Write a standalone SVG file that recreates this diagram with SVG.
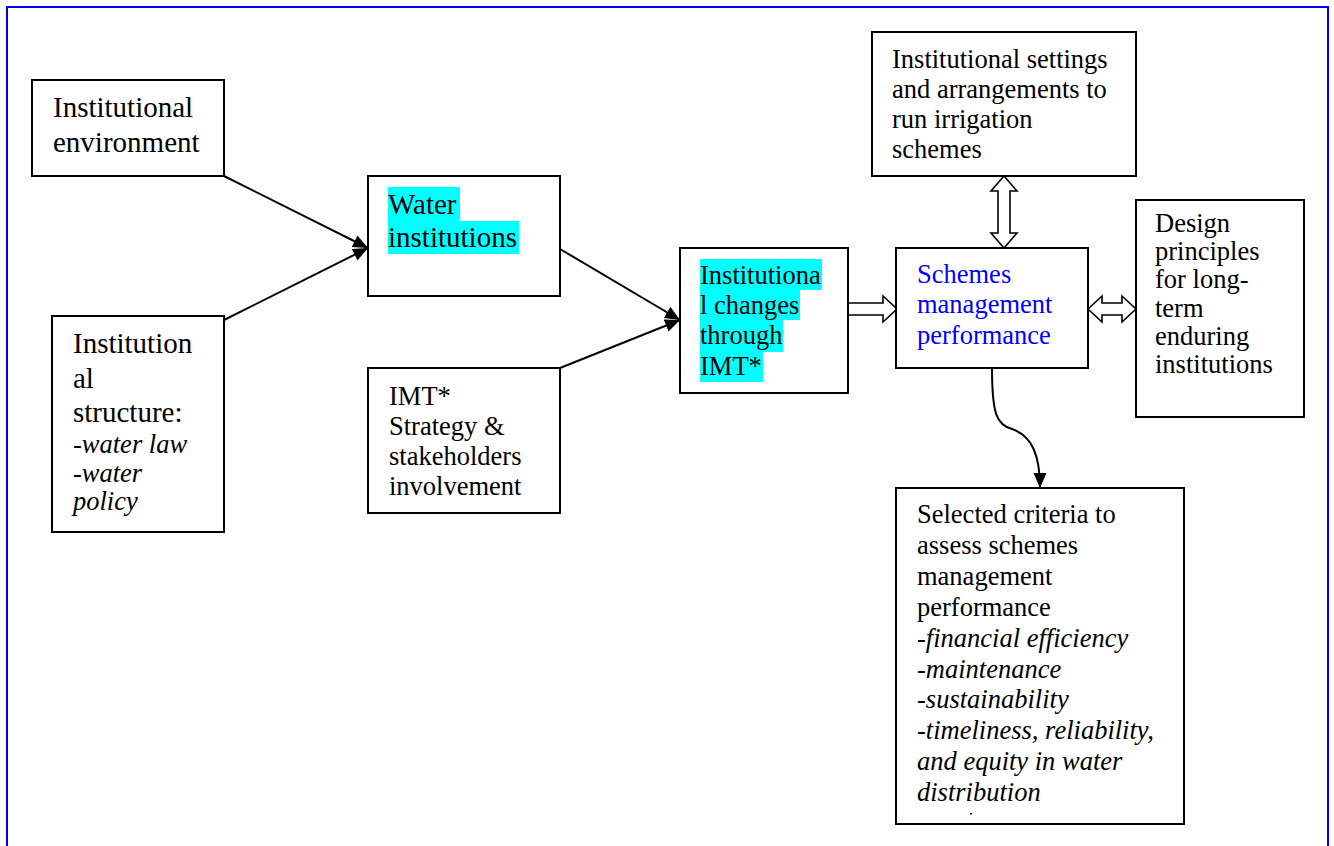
<svg xmlns="http://www.w3.org/2000/svg" width="1334" height="846" viewBox="0 0 1334 846">
  <style>
    .box { fill: #ffffff; stroke: #000000; stroke-width: 2; }
    .t { font-family: "Liberation Serif", "Times New Roman", serif; font-size: 26.5px; fill: #000000; }
    .big { font-size: 29px; }
    .it { font-style: italic; }
    .blue { fill: #0000ff; }
    .hl { fill: #00ffff; }
    .link { fill: none; stroke: #000000; stroke-width: 2; }
    .block { fill: #ffffff; stroke: #000000; stroke-width: 1.6; stroke-linejoin: miter; }
  </style>
  <defs>
    <marker id="tri" markerUnits="userSpaceOnUse" markerWidth="16" markerHeight="14" refX="15" refY="6.5" orient="auto">
      <path d="M0,0 L15,6.5 L0,13 z" fill="#000000"/>
    </marker>
  </defs>

  <!-- outer frame -->
  <rect x="7" y="7" width="1321" height="870" fill="none" stroke="#0000ff" stroke-width="2"/>

  <!-- connectors -->
  <g id="connectors">
    <line class="link" x1="224" y1="176" x2="368" y2="248" marker-end="url(#tri)"/>
    <line class="link" x1="224" y1="320" x2="368" y2="248" marker-end="url(#tri)"/>
    <line class="link" x1="560" y1="249" x2="680" y2="320" marker-end="url(#tri)"/>
    <line class="link" x1="560" y1="368" x2="680" y2="320" marker-end="url(#tri)"/>
    <path class="link" d="M992,368 C992,415 997,425 1012,429 C1032,436 1040,455 1040,488" marker-end="url(#tri)"/>
    <!-- block arrows -->
    <polygon class="block" points="848,303 883,303 883,296 897,309 883,322 883,315 848,315"/>
    <polygon class="block" points="1088,309 1102,296 1102,303 1122,303 1122,296 1136,309 1122,322 1122,315 1102,315 1102,322"/>
    <polygon class="block" points="1004,176 1017,191 1010,191 1010,233 1017,233 1004,248 991,233 998,233 998,191 991,191"/>
  </g>

  <g id="institutional-environment">
    <rect class="box" x="32" y="80" width="192" height="96"/>
    <text class="t big" x="53" y="117">Institutional</text>
    <text class="t big" x="53" y="152">environment</text>
  </g>

  <g id="institutional-structure">
    <rect class="box" x="52" y="316" width="172" height="216"/>
    <text class="t big" x="73" y="353">Institution</text>
    <text class="t big" x="73" y="388">al</text>
    <text class="t big" x="73" y="422">structure:</text>
    <text class="t" x="73" y="453">-<tspan class="it">water law</tspan></text>
    <text class="t it" x="73" y="482">-water</text>
    <text class="t it" x="73" y="510">policy</text>
  </g>

  <g id="water-institutions">
    <rect class="box" x="368" y="176" width="192" height="120"/>
    <rect class="hl" x="388" y="187" width="72" height="34"/>
    <rect class="hl" x="388" y="221" width="131" height="33"/>
    <text class="t big" x="388" y="214">Water</text>
    <text class="t big" x="388" y="247">institutions</text>
  </g>

  <g id="imt-strategy">
    <rect class="box" x="368" y="368" width="192" height="145"/>
    <text class="t" x="389" y="405">IMT*</text>
    <text class="t" x="389" y="435">Strategy &amp;</text>
    <text class="t" x="389" y="465">stakeholders</text>
    <text class="t" x="389" y="495">involvement</text>
  </g>

  <g id="institutional-changes">
    <rect class="box" x="680" y="248" width="168" height="145"/>
    <rect class="hl" x="700" y="259" width="122" height="31"/>
    <rect class="hl" x="700" y="290" width="100" height="30"/>
    <rect class="hl" x="700" y="320" width="83" height="32"/>
    <rect class="hl" x="700" y="352" width="63" height="30"/>
    <text class="t" x="700" y="284">Institutiona</text>
    <text class="t" x="700" y="314">l changes</text>
    <text class="t" x="700" y="344">through</text>
    <text class="t" x="700" y="375">IMT*</text>
  </g>

  <g id="schemes-performance">
    <rect class="box" x="896" y="248" width="192" height="120"/>
    <text class="t blue" x="917" y="283">Schemes</text>
    <text class="t blue" x="917" y="313">management</text>
    <text class="t blue" x="917" y="344">performance</text>
  </g>

  <g id="institutional-settings">
    <rect class="box" x="872" y="32" width="264" height="144"/>
    <text class="t" x="892" y="68">Institutional settings</text>
    <text class="t" x="892" y="98">and arrangements to</text>
    <text class="t" x="892" y="128">run irrigation</text>
    <text class="t" x="892" y="158">schemes</text>
  </g>

  <g id="design-principles">
    <rect class="box" x="1136" y="200" width="168" height="217"/>
    <text class="t" x="1155" y="232">Design</text>
    <text class="t" x="1155" y="260">principles</text>
    <text class="t" x="1155" y="288">for long-</text>
    <text class="t" x="1155" y="317">term</text>
    <text class="t" x="1155" y="345">enduring</text>
    <text class="t" x="1155" y="373">institutions</text>
  </g>

  <g id="selected-criteria">
    <rect class="box" x="896" y="488" width="288" height="336"/>
    <text class="t" x="917" y="523">Selected criteria to</text>
    <text class="t" x="917" y="554">assess schemes</text>
    <text class="t" x="917" y="585">management</text>
    <text class="t" x="917" y="616">performance</text>
    <text class="t it" x="917" y="647">-financial efficiency</text>
    <text class="t it" x="917" y="678">-maintenance</text>
    <text class="t it" x="917" y="708">-sustainability</text>
    <text class="t it" x="917" y="739">-timeliness, reliability,</text>
    <text class="t it" x="917" y="770">and equity in water</text>
    <text class="t it" x="917" y="801">distribution</text>
    <rect x="970" y="813" width="2" height="1.5" fill="#000000"/>
  </g>
</svg>
